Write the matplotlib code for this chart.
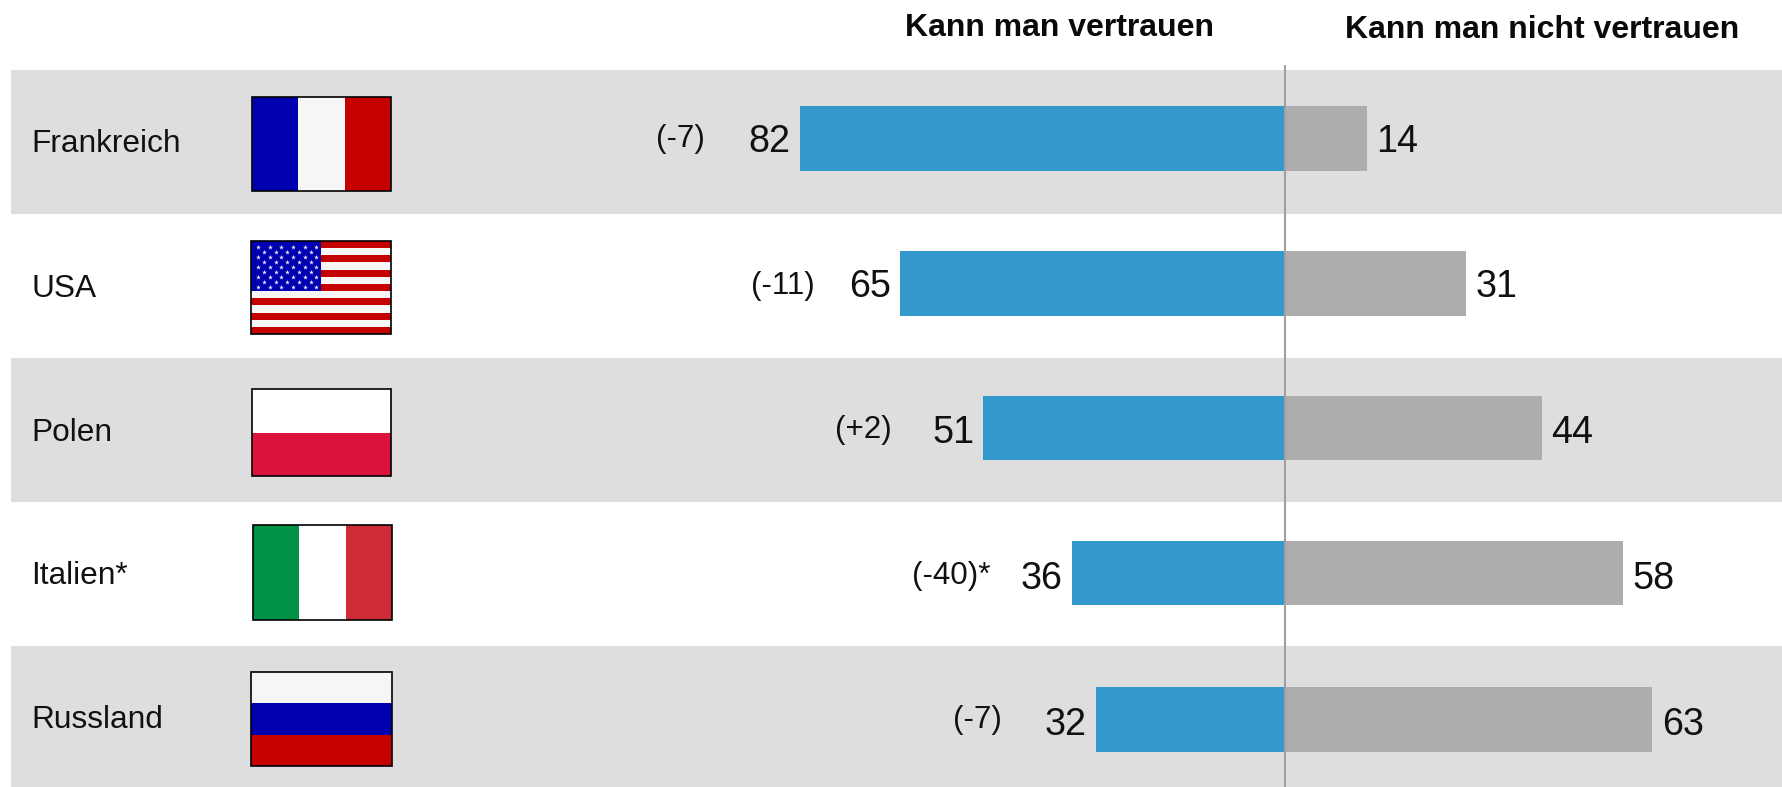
import matplotlib
matplotlib.use("Agg")
import matplotlib.pyplot as plt
from matplotlib.patches import Rectangle

plt.rcParams['font.family'] = ['Liberation Sans', 'DejaVu Sans']

countries = ["Frankreich", "USA", "Polen", "Italien*", "Russland"]
trust = [82, 65, 51, 36, 32]
distrust = [14, 31, 44, 58, 63]
changes = ["(-7)", "(-11)", "(+2)", "(-40)*", "(-7)"]
header_trust = "Kann man vertrauen"
header_distrust = "Kann man nicht vertrauen"

# ---- layout (pixels) ----
W, H = 1783, 787
CX = 1285
PX_L, PX_R = 5.92, 5.83
row_y = [138.5, 283.5, 428, 573, 719.5]
BAR_H = 64.5
change_right = [705, 815, 892, 991, 1002]
change_base = [147, 294, 438, 584, 728]
value_base = [152, 297, 443, 589, 735]
label_base = [152.5, 297, 441, 584, 728]
flag_boxes = [(252, 97, 391, 191), (251, 241, 391, 334), (252, 389, 391, 476),
              (253, 525, 392, 620), (251, 672, 392, 766)]

fig = plt.figure(figsize=(W / 100, H / 100), dpi=100, facecolor='white')

# pixel-space overlay for the bands, flags and text
bg = fig.add_axes([0, 0, 1, 1], zorder=0)
bg.set_xlim(0, W); bg.set_ylim(H, 0); bg.axis('off')
for t, b in [(70, 214), (358, 501.5), (646, 787)]:
    bg.add_patch(Rectangle((11, t), W - 11, b - t, fc='#DEDEDE', ec='none'))

# bars: one axes each side of the centre line
axL = fig.add_axes([0, 0, CX / W, 1], zorder=1)
axL.set_xlim(CX / PX_L, 0); axL.set_ylim(H, 0); axL.axis('off')
axR = fig.add_axes([CX / W, 0, 1 - CX / W, 1], zorder=1)
axR.set_xlim(0, (W - CX) / PX_R); axR.set_ylim(H, 0); axR.axis('off')
axL.barh(row_y, trust, height=BAR_H, color='#3398CC', lw=0)
axR.barh(row_y, distrust, height=BAR_H, color='#ADADAD', lw=0)

top = fig.add_axes([0, 0, 1, 1], zorder=2)
top.set_xlim(0, W); top.set_ylim(H, 0); top.axis('off'); top.patch.set_alpha(0)
top.plot([CX, CX], [65, H], color='#A0A0A0', lw=1.5, solid_capstyle='butt')

for i in range(len(countries)):
    top.text(31, label_base[i], countries[i], fontsize=22.8, va='baseline', ha='left', color='#111111')
    top.text(CX - trust[i] * PX_L - 9, value_base[i], str(trust[i]), fontsize=27.2,
             va='baseline', ha='right', color='#111111')
    top.text(CX + distrust[i] * PX_R + 9.5, value_base[i], str(distrust[i]), fontsize=27.2,
             va='baseline', ha='left', color='#111111')
    top.text(change_right[i], change_base[i], changes[i], fontsize=22.6, va='baseline', ha='right',
             color='#111111')

top.text(905, 36, header_trust, fontsize=23, fontweight='bold', va='baseline', ha='left', color='#0A0A0A')
top.text(1345, 38, header_distrust, fontsize=23, fontweight='bold', va='baseline', ha='left', color='#0A0A0A')

BLUE, WHITE, RED = '#0000B0', '#F6F6F6', '#C40000'


def frame(box):
    x0, y0, x1, y1 = box
    top.add_patch(Rectangle((x0, y0), x1 - x0, y1 - y0, fc='none', ec='black', lw=1.2, zorder=6))


def vertical(box, cols):
    x0, y0, x1, y1 = box
    w = (x1 - x0) / len(cols)
    for k, c in enumerate(cols):
        top.add_patch(Rectangle((x0 + k * w, y0), w, y1 - y0, fc=c, ec='none', zorder=4))
    frame(box)


def horizontal(box, cols):
    x0, y0, x1, y1 = box
    h = (y1 - y0) / len(cols)
    for k, c in enumerate(cols):
        top.add_patch(Rectangle((x0, y0 + k * h), x1 - x0, h, fc=c, ec='none', zorder=4))
    frame(box)


def usa(box):
    x0, y0, x1, y1 = box
    h = (y1 - y0) / 13
    for k in range(13):
        top.add_patch(Rectangle((x0, y0 + k * h), x1 - x0, h, fc=RED if k % 2 == 0 else WHITE,
                                ec='none', zorder=4))
    cw, ch = (x1 - x0) * 0.5, 7 * h
    top.add_patch(Rectangle((x0, y0), cw, ch, fc=BLUE, ec='none', zorder=4.5))
    xs, ys = [], []
    for r in range(9):
        n = 6 if r % 2 == 0 else 5
        for c in range(n):
            xs.append(x0 + cw * (0.1 + 0.167 * (c + (0 if r % 2 == 0 else 0.5))))
            ys.append(y0 + ch * (0.11 + 0.1 * r))
    top.scatter(xs, ys, marker='*', s=13, color='#E8E8FF', lw=0, zorder=5)
    frame(box)


vertical(flag_boxes[0], [BLUE, WHITE, RED])
usa(flag_boxes[1])
horizontal(flag_boxes[2], ['#FFFFFF', '#DC143C'])
vertical(flag_boxes[3], ['#009246', '#FFFFFF', '#CE2B37'])
horizontal(flag_boxes[4], [WHITE, BLUE, RED])

fig.savefig('out.png', dpi=100, facecolor='white')
